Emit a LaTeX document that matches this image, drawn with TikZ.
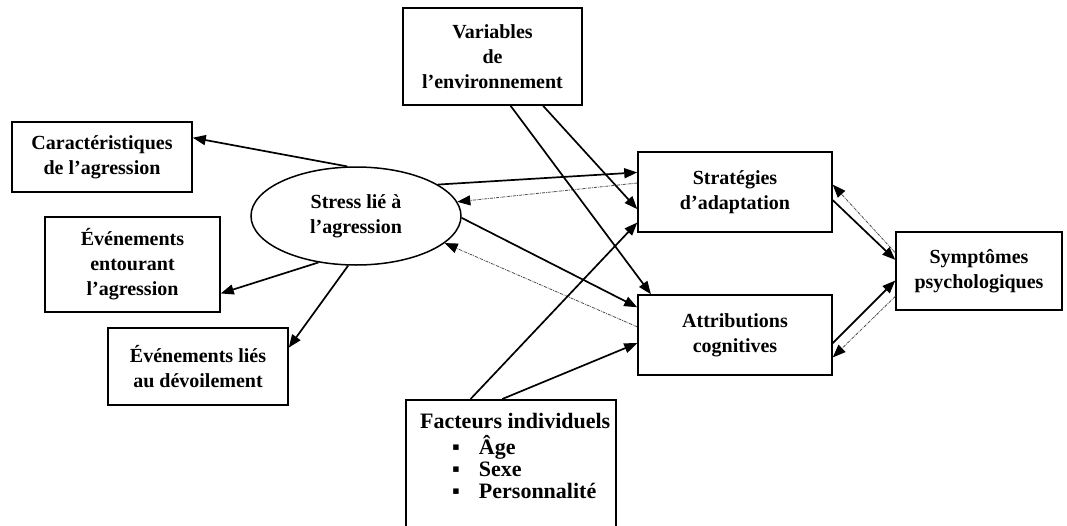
\documentclass[tikz,border=0pt]{standalone}
\usepackage{fontspec}
\setmainfont{Liberation Serif}
\usetikzlibrary{arrows.meta,shapes.geometric,calc}
\begin{document}
\begin{tikzpicture}[x=1pt,y=-1pt,
  txt/.style={font=\bfseries\fontsize{20}{25}\selectfont,align=center},
  box/.style={txt,draw,line width=1.5pt,rectangle,inner sep=0pt},
  sol/.style={line width=1.7pt,-{Triangle[length=13pt,width=10pt]}},
  dot/.style={line width=0.8pt,draw=gray!60!black,densely dashdotted,-{Triangle[length=13pt,width=10pt,color=black]}}]
\clip (0,0) rectangle (1067,525);
\fill[white] (0,0) rectangle (1067,525);
\node[box,minimum width=180,minimum height=70] (car) at (102,157) {Caractéristiques\\de l’agression};
\node[box,minimum width=175,minimum height=95] (ent) at (132.5,264.5) {Événements\\entourant\\l’agression};
\node[box,minimum width=180,minimum height=77] (lies) at (198,366.5) {Événements liés\\au dévoilement};
\node[box,minimum width=179,minimum height=97] (var) at (492.5,56.5) {Variables\\de\\l’environnement};
\node[box,minimum width=194,minimum height=80] (strat) at (735,192) {Stratégies\\d’adaptation};
\node[box,minimum width=194,minimum height=80] (attr) at (735,335) {Attributions\\cognitives};
\node[box,minimum width=166,minimum height=78] (sympt) at (979,271) {Symptômes\\psychologiques};
\node[txt,draw,line width=1.5pt,ellipse,inner sep=0pt,minimum width=210,minimum height=98] (stress) at (356,216) {Stress lié à\\l’agression};
\node[draw,line width=1.5pt,rectangle,inner sep=0pt,minimum width=210,minimum height=160,anchor=north west] (fact) at (405,399) {};
\node[txt,font=\bfseries\fontsize{22}{22}\selectfont,align=left,anchor=north west,inner sep=0pt] (facttxt) at (420,413)
  {Facteurs individuels\\[4pt]
   \hspace*{32pt}▪\hspace*{19pt}Âge\\
   \hspace*{32pt}▪\hspace*{19pt}Sexe\\
   \hspace*{32pt}▪\hspace*{19pt}Personnalité};
\draw[sol] (stress.100) -- ($(car.north east)!0.23!(car.south east)$);
\draw[sol] (stress.231) -- ($(ent.north east)!0.8!(ent.south east)$);
\draw[sol] (stress.261) -- ($(lies.north east)!0.26!(lies.south east)$);
\draw[sol] (stress.21) -- ($(strat.north west)!0.26!(strat.south west)$);
\draw[dot] ($(strat.north west)!0.39!(strat.south west)$) -- (stress.8);
\draw[sol] (stress.-1) -- ($(attr.north west)!0.16!(attr.south west)$);
\draw[dot] ($(attr.north west)!0.4!(attr.south west)$) -- (stress.-17);
\draw[sol] ($(var.south west)!0.78!(var.south east)$) -- ($(strat.north west)!0.71!(strat.south west)$);
\draw[sol] ($(var.south west)!0.6!(var.south east)$) -- ($(attr.north west)!0.07!(attr.north east)$);
\draw[sol] ($(fact.north west)!0.31!(fact.north east)$) -- ($(strat.north west)!0.875!(strat.south west)$);
\draw[sol] ($(fact.north west)!0.46!(fact.north east)$) -- ($(attr.north west)!0.6!(attr.south west)$);
\draw[sol] ($(strat.north east)!0.6!(strat.south east)$) -- ($(sympt.north west)!0.36!(sympt.south west)$);
\draw[dot] ($(sympt.north west)!0.27!(sympt.south west)$) -- ($(strat.north east)!0.41!(strat.south east)$);
\draw[sol] ($(attr.north east)!0.6!(attr.south east)$) -- ($(sympt.north west)!0.62!(sympt.south west)$);
\draw[dot] ($(sympt.north west)!0.82!(sympt.south west)$) -- ($(attr.north east)!0.775!(attr.south east)$);
\end{tikzpicture}
\end{document}
